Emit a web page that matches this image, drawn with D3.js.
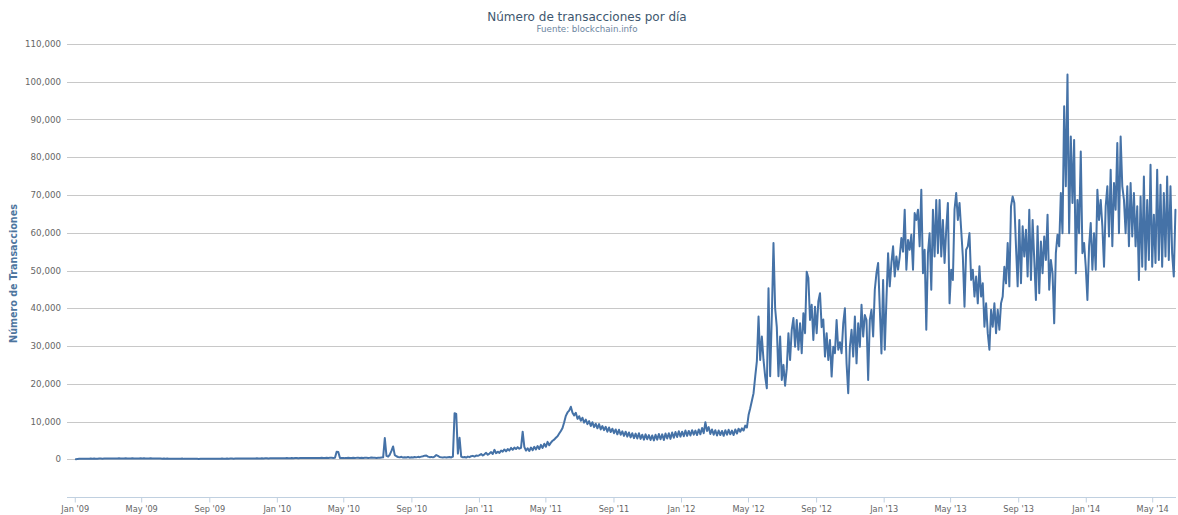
<!DOCTYPE html>
<html><head><meta charset="utf-8">
<script src="https://cdn.jsdelivr.net/npm/d3@7"></script>
<style>body{margin:0;background:#fff;} svg{display:block;}</style>
</head><body>
<svg id="chart" width="1178" height="515"></svg>
<script>
const titleText = "Número de transacciones por día";
const subtitleText = "Fuente: blockchain.info";
const yAxisTitle = "Número de Transacciones";
const seriesStart = "2009-01-03";
const seriesStepDays = 3;
const seriesValues = [
10,60,110,130,120,150,140,160,130,170,
150,180,160,140,170,190,160,180,200,170,
190,210,180,200,220,190,260,230,200,220,
240,210,190,220,280,210,230,200,220,250,
220,240,210,230,200,260,190,210,180,200,
170,190,160,220,150,170,140,160,130,150,
120,140,110,130,170,100,130,110,120,100,
110,130,100,120,90,110,130,100,120,140,
110,130,150,120,140,160,130,150,170,140,
160,180,150,170,190,160,180,200,170,190,
210,180,200,220,190,210,230,200,220,240,
210,230,250,220,240,260,230,250,270,240,
260,280,250,270,290,260,280,300,270,290,
310,280,300,320,290,310,330,300,320,340,
310,330,350,320,340,360,330,350,370,340,
360,380,350,370,390,360,380,2000,1900,350,
320,360,300,340,380,330,350,400,340,370,
420,360,390,330,380,410,350,390,440,370,
400,360,420,390,450,500,5600,900,700,1200,
2200,3400,1100,800,600,500,650,450,550,480,
600,420,520,460,580,500,640,550,700,800,
950,1000,700,560,620,500,700,1100,900,600,
520,480,560,450,530,600,480,700,12200,12000,
1500,5700,700,500,600,450,700,550,800,900,
700,1000,900,1100,1400,1000,1300,1700,1200,1500,
1900,1400,2500,1600,2000,1700,2300,2000,2600,2100,
2700,2300,3000,2500,3100,2700,3200,2800,3000,7300,
3300,2300,2900,2200,3100,2400,3300,2600,3500,2700,
3800,3000,4100,3300,4600,3700,4400,4900,5200,5700,
6100,6800,7500,8300,9800,11500,12400,12900,13900,12300,
11600,12300,10700,11400,10200,11000,9700,10500,9300,10100,
8800,9800,8500,9400,8200,9300,7900,8800,7700,8600,
7300,8400,7200,8100,6900,7900,6600,7800,6500,7400,
6200,7300,6000,7100,5800,6900,5600,6800,5500,6900,
5400,6500,5200,6600,5300,6400,5100,6300,5000,6500,
5200,6700,5300,6600,5100,6800,5500,6900,5400,7100,
5700,7200,5900,7400,6000,7300,6100,7600,6200,7500,
6300,7700,6500,7600,6400,7900,6600,8300,6900,9800,
7500,8500,6700,7900,6500,7700,6300,7600,6400,7500,
6200,7700,6500,7800,6600,7600,6400,7900,6800,8100,
7300,8200,7600,8900,8400,11700,13500,15500,17500,21900,
26000,37800,26300,32500,26300,21900,18800,45300,22000,38000,
57300,40000,35000,22000,32500,21000,25000,19500,24000,33400,
26300,34300,37400,29800,36900,29000,36000,28100,38700,33400,
49700,48000,36900,40900,31600,40400,33400,41800,44000,35000,
37000,27200,33400,26300,31600,21900,29800,28100,36900,29000,
31000,28100,36000,40000,25400,17500,29800,34300,27200,37800,
25400,36000,29800,40900,32500,38200,36900,21000,36900,39600,
32500,44900,49300,52000,40000,28000,47500,29000,42200,54600,
45800,52000,56400,48400,53700,50200,53700,58600,55000,66100,
50200,58100,55500,59500,50200,65200,63400,66100,56400,71400,
49300,55500,34300,54600,59900,44900,66100,53700,68700,54600,
68700,53700,63400,52000,60800,67900,41300,50200,47500,66100,
70500,63400,67900,60800,53700,40400,55500,56400,59900,47500,
50200,43100,48400,41300,51100,43100,46600,35100,41300,33400,
29000,39600,35100,41300,33400,39600,34300,41300,43100,51000,
46600,57300,45800,67000,69600,67900,56400,45800,63400,46600,
61700,53700,60800,48400,66100,47500,63400,52800,42200,61700,
44000,57700,49300,59000,52800,64800,44900,52800,49300,36000,
54600,59500,56400,70500,59900,93500,72300,101900,59900,85500,
67900,84600,49300,68700,59900,81500,54600,57300,51000,42200,
56400,62600,50200,59900,50200,71400,63400,68700,61700,51000,
67000,72300,59000,76700,56400,73200,66100,83800,59900,85500,
72300,68700,59900,72300,56400,73200,59000,70500,56400,67000,
47500,69600,51000,74900,50200,68700,52800,78000,51000,64800,
52000,76700,52800,72700,51000,70500,53700,74900,52800,72300,
54600,48400,66100
];
const yTickValues = [0,10000,20000,30000,40000,50000,60000,70000,80000,90000,100000,110000];
const xDomain = ["2008-12-18", "2014-06-13"];
const yDomain = [-10000, 110000];

const parse = d3.utcParse("%Y-%m-%d");
const start = parse(seriesStart);
const data = seriesValues.map((v, i) => ({ date: d3.utcDay.offset(start, i * seriesStepDays), value: v }));

const plot = { left: 67, right: 1176, top: 44, bottom: 497 };
const x = d3.scaleUtc().domain(xDomain.map(parse)).range([plot.left, plot.right]);
const y = d3.scaleLinear().domain(yDomain).range([plot.bottom, plot.top]);

const svg = d3.select("#chart");
const font = "'DejaVu Sans', Verdana, sans-serif";

// gridlines
svg.append("g").selectAll("line").data(yTickValues).join("line")
  .attr("x1", plot.left).attr("x2", plot.right)
  .attr("y1", d => Math.round(y(d)) + 0.5).attr("y2", d => Math.round(y(d)) + 0.5)
  .attr("stroke", "#C8C8C8").attr("stroke-width", 1);

// y labels
svg.append("g").selectAll("text").data(yTickValues).join("text")
  .attr("x", 61).attr("y", d => y(d) + 3)
  .attr("text-anchor", "end")
  .attr("font-family", font).attr("font-size", "8.7px").attr("fill", "#666")
  .text(d => d3.format(",")(d));

// x axis
const xAxis = d3.axisBottom(x)
  .ticks(d3.utcMonth.every(4))
  .tickFormat(d3.utcFormat("%b '%y"))
  .tickSizeInner(5).tickSizeOuter(0).tickPadding(4);
const gx = svg.append("g").attr("transform", `translate(0,${plot.bottom + 0.5})`).call(xAxis);
gx.select(".domain").remove();
gx.selectAll(".tick line").attr("stroke", "#C0D0E0");
gx.selectAll(".tick text").attr("font-family", font).attr("font-size", "8.2px").attr("fill", "#666");
svg.append("line")
  .attr("x1", plot.left).attr("x2", plot.right)
  .attr("y1", plot.bottom + 0.5).attr("y2", plot.bottom + 0.5)
  .attr("stroke", "#C0D0E0").attr("stroke-width", 1);

// series line
const line = d3.line().x(d => x(d.date)).y(d => y(d.value));
svg.append("path").datum(data)
  .attr("d", line)
  .attr("fill", "none")
  .attr("stroke", "#4572A7")
  .attr("stroke-width", 2)
  .attr("stroke-linejoin", "round")
  .attr("stroke-linecap", "round");

// titles
svg.append("text").attr("x", 587).attr("y", 21)
  .attr("text-anchor", "middle").attr("font-family", font)
  .attr("font-size", "12px").attr("fill", "#3E576F").text(titleText);
svg.append("text").attr("x", 587).attr("y", 32)
  .attr("text-anchor", "middle").attr("font-family", font)
  .attr("font-size", "8.7px").attr("fill", "#6D869F").text(subtitleText);
svg.append("text")
  .attr("transform", `translate(17,${(plot.top + plot.bottom) / 2 + 3}) rotate(-90)`)
  .attr("text-anchor", "middle").attr("font-family", font)
  .attr("font-size", "9.6px").attr("font-weight", "bold").attr("fill", "#4D759E")
  .text(yAxisTitle);
</script>
</body></html>
